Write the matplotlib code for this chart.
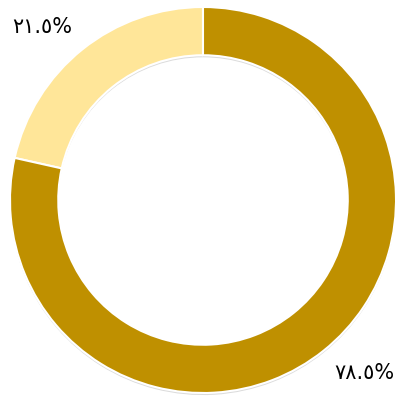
import matplotlib.pyplot as plt
import matplotlib.patheffects as pe
import numpy as np

shares = [21.5, 78.5]
labels = ['٢١.٥%', '٧٨.٥%']
colors = ['#FFE699', '#BF9000']

fig = plt.figure(figsize=(4.04, 4.01), dpi=100)
ax = fig.add_axes([0, 0, 1, 1])

wedges, _ = ax.pie(shares, colors=colors, startangle=90, counterclock=True,
                   radius=1.0,
                   wedgeprops=dict(width=0.25, edgecolor='white', linewidth=1.5))
for w in wedges:
    w.set_path_effects([pe.SimplePatchShadow(offset=(0, -1.5), shadow_rgbFace='#999999', alpha=0.35),
                        pe.Normal()])

# labels outside the ring, around each slice's middle
for w, lab in zip(wedges, labels):
    mid = np.deg2rad((w.theta1 + w.theta2) / 2 + 4)
    ax.text(1.23 * np.cos(mid), 1.22 * np.sin(mid), lab, ha='center', va='center',
            fontsize=15, family=['DejaVu Sans'], color='black')

ax.set_xlim(-203 / 193, 201 / 193)
ax.set_ylim(-201 / 193, 200 / 193)
ax.axis('off')
fig.savefig('out.png', dpi=100)
